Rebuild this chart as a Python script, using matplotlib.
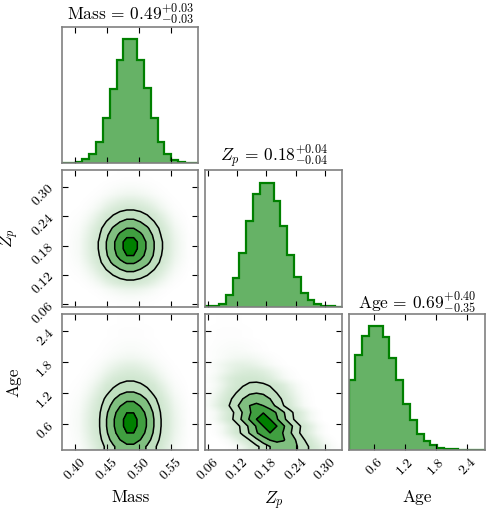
import numpy as np
import matplotlib.pyplot as plt

plt.rcParams['font.family'] = 'serif'
plt.rcParams['font.serif'] = ['cmr10']
plt.rcParams['mathtext.fontset'] = 'cm'
plt.rcParams['axes.unicode_minus'] = False

# parameter names and the quoted medians
labels = ['Mass', r'$Z_p$', 'Age']
titles = [r'$\mathrm{Mass}\,=\,0.49^{+0.03}_{-0.03}$',
          r'$Z_p\,=\,0.18^{+0.04}_{-0.04}$',
          r'$\mathrm{Age}\,=\,0.69^{+0.40}_{-0.35}$']

# plotted ranges (20 bins each)
mass_range = (0.380, 0.593)
zp_range = (0.055, 0.334)
age_range = (0.10, 2.74)

mass_ticks = [0.40, 0.45, 0.50, 0.55]
zp_ticks = [0.06, 0.12, 0.18, 0.24, 0.30]
age_ticks = [0.6, 1.2, 1.8, 2.4]
mass_ticklabels = ['0.40', '0.45', '0.50', '0.55']
zp_ticklabels = ['0.06', '0.12', '0.18', '0.24', '0.30']
age_ticklabels = ['0.6', '1.2', '1.8', '2.4']

# 1D histogram heights (relative counts per bin)
mass_counts = [0.5, 2, 4, 12, 28, 63, 135, 222, 310, 372,
               372, 310, 225, 135, 65, 28, 10, 4, 1, 0.5]
zp_counts = [1, 3, 9, 35, 85, 159, 255, 334, 367, 367,
             314, 239, 154, 89, 40, 19, 7, 3, 1, 0.5]
age_counts = [210, 282, 340, 370, 370, 338, 274, 210, 137, 88,
              48, 26, 14, 6, 3, 2, 1, 1, 0.5, 0.5]

# Age-Zp panel: Zp bin of the peak for each Age bin, and the Zp spread at fixed Age (in bins)
zp_peak_bin_by_age = [11, 10, 9, 9, 8, 8, 7, 7, 7, 7,
                      6, 6, 5, 5, 4, 4, 3, 3, 3, 3]
zp_spread_at_fixed_age = [0.4, 1.4, 4.4, 11, 25, 46, 71, 92, 100,
                          92, 71, 46, 25, 11, 4.4, 1.4, 0.4]

nbins = 20
sig_levels = 1.0 - np.exp(-0.5 * np.array([0.5, 1.0, 1.5, 2.0]) ** 2)
fill_colors = [(0.75, 0.875, 0.75), (0.5, 0.75, 0.5), (0.25, 0.625, 0.25), (0.0, 0.5, 0.0)]


def centers(rng):
    e = np.linspace(rng[0], rng[1], nbins + 1)
    return 0.5 * (e[1:] + e[:-1])


def thresholds(H):
    flat = np.sort(H.ravel())[::-1]
    cum = np.cumsum(flat) / flat.sum()
    return np.sort(np.interp(sig_levels, cum, flat))


def padded(H, xr, yr):
    H2 = np.pad(H, 1, mode='edge')
    H2 = np.pad(H2, 1, mode='constant', constant_values=H.min())
    out = []
    for rng in (xr, yr):
        c = centers(rng)
        d = c[1] - c[0]
        out.append(np.concatenate([c[0] - d * np.array([2, 1]), c, c[-1] + d * np.array([1, 2])]))
    return out[0], out[1], H2


def draw_2d(ax, H, xr, yr):
    # faint cloud of samples outside the contours
    inten = 1 - np.exp(-H / (0.05 * H.max()))
    rgba = np.zeros(H.shape + (4,))
    rgba[..., 1] = 0.5
    rgba[..., 3] = 0.2 * inten
    ax.imshow(rgba, extent=(xr[0], xr[1], yr[0], yr[1]), origin='lower',
              aspect='auto', interpolation='bilinear', zorder=0)
    V = thresholds(H)
    x2, y2, H2 = padded(H, xr, yr)
    ax.contourf(x2, y2, H2, list(V) + [H.max() * 1.0001], colors=fill_colors, zorder=1)
    ax.contour(x2, y2, H2, V, colors='k', linewidths=1.1, zorder=2)
    ax.set_xlim(xr)
    ax.set_ylim(yr)


def draw_hist(ax, counts, rng, title):
    edges = np.linspace(rng[0], rng[1], nbins + 1)
    ax.stairs(counts, edges, fill=True, color='g', alpha=0.6, lw=0)
    ax.stairs(counts, edges, color='g', lw=1.6)
    ax.set_xlim(rng)
    ax.set_ylim(0, 1.1 * max(counts))
    ax.set_yticks([])
    ax.set_title(title, fontsize=12.5, pad=3)


ranges = [mass_range, zp_range, age_range]
ticks = [mass_ticks, zp_ticks, age_ticks]
ticklabels = [mass_ticklabels, zp_ticklabels, age_ticklabels]

# 2D tables (rows = y bins, cols = x bins)
H_zp_mass = np.outer(zp_counts, mass_counts)
H_age_mass = np.outer(age_counts, mass_counts)
H_age_zp = np.zeros((nbins, nbins))
prof = np.array(zp_spread_at_fixed_age)
half = len(prof) // 2
for i, c in enumerate(zp_peak_bin_by_age):
    off = np.arange(nbins) - c + half
    ok = (off >= 0) & (off < len(prof))
    H_age_zp[i, ok] = age_counts[i] * prof[off[ok]] / prof.sum()

fig, axes = plt.subplots(3, 3, figsize=(4.9, 5.11), dpi=100)
fig.subplots_adjust(left=62 / 490, right=485 / 490, bottom=1 - 450 / 511,
                    top=1 - 27 / 511, wspace=0.05, hspace=0.05)

draw_hist(axes[0, 0], mass_counts, mass_range, titles[0])
draw_hist(axes[1, 1], zp_counts, zp_range, titles[1])
draw_hist(axes[2, 2], age_counts, age_range, titles[2])
draw_2d(axes[1, 0], H_zp_mass, mass_range, zp_range)
draw_2d(axes[2, 0], H_age_mass, mass_range, age_range)
draw_2d(axes[2, 1], H_age_zp, zp_range, age_range)

for i in range(3):
    for j in range(3):
        ax = axes[i, j]
        if j > i:
            ax.axis('off')
            continue
        for sp in ax.spines.values():
            sp.set_color('0.5')
            sp.set_linewidth(1.2)
        ax.set_xticks(ticks[j])
        if i == 2:
            ax.set_xticklabels(ticklabels[j], rotation=45, fontsize=10)
            ax.set_xlabel(labels[j], fontsize=12.5)
            ax.xaxis.set_label_coords(0.5, -0.29)
        else:
            ax.set_xticklabels([])
        if j != i:
            ax.set_yticks(ticks[i])
            if j == 0:
                ax.set_yticklabels(ticklabels[i], rotation=45, fontsize=10)
                ax.set_ylabel(labels[i], fontsize=12.5)
                ax.yaxis.set_label_coords(-0.3, 0.5)
            else:
                ax.set_yticklabels([])
        ax.tick_params(direction='in', top=True, right=(j != i), length=4, width=0.8, pad=4.5)

fig.savefig('out.png', dpi=100)
